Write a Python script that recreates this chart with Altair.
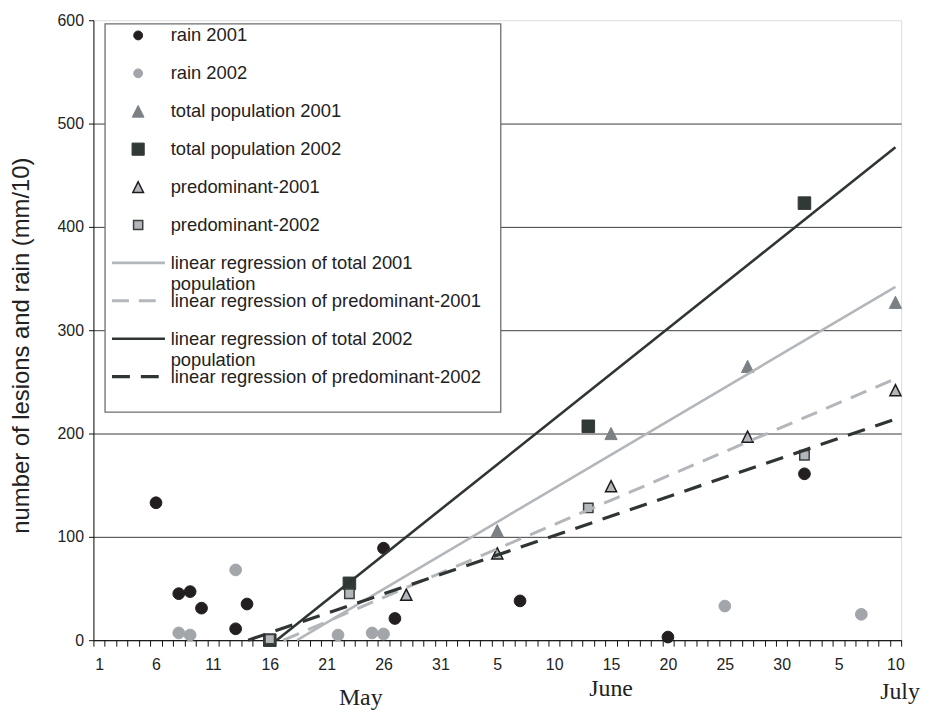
import json
import altair as alt
import pandas as pd

# ---------------- data (day index: 1 = 1 May, 31 = 31 May, 36 = 5 June, 71 = 10 July)
rain2001_days = [6, 8, 9, 10, 13, 14, 26, 27, 38, 51, 63]
rain2001_vals = [133, 45, 47, 31, 11, 35, 89, 21, 38, 3, 161]
rain2002_days = [8, 9, 13, 22, 25, 26, 56, 68]
rain2002_vals = [7, 5, 68, 5, 7, 6, 33, 25]
total2001_days = [36, 46, 58, 71]
total2001_vals = [106, 200, 265, 327]
total2002_days = [16, 23, 44, 63]
total2002_vals = [0, 55, 207, 423]
pred2001_days = [28, 36, 46, 58, 71]
pred2001_vals = [44, 84, 149, 197, 242]
pred2002_days = [16, 23, 44, 63]
pred2002_vals = [1, 45, 128, 179]

point_series = ["rain 2001", "rain 2002", "total population 2001",
                "total population 2002", "predominant-2001", "predominant-2002"]
point_days = [rain2001_days, rain2002_days, total2001_days,
              total2002_days, pred2001_days, pred2002_days]
point_vals = [rain2001_vals, rain2002_vals, total2001_vals,
              total2002_vals, pred2001_vals, pred2002_vals]

reg_names = ["linear regression of total 2001 population",
             "linear regression of predominant-2001",
             "linear regression of total 2002 population",
             "linear regression of predominant-2002"]
reg_legend_lines = [["linear regression of total 2001", "population"],
                    ["linear regression of predominant-2001"],
                    ["linear regression of total 2002", "population"],
                    ["linear regression of predominant-2002"]]
reg_start_day = [18.4, 17.2, 16.6, 14.1]
reg_start_val = [0, 0, 0, 0]
reg_end_day = [71, 71, 71, 71]
reg_end_val = [342, 253, 477, 214]

tick_days = [1, 6, 11, 16, 21, 26, 31, 36, 41, 46, 51, 56, 61, 66, 71]
tick_labels = ["1", "6", "11", "16", "21", "26", "31", "5", "10", "15",
               "20", "25", "30", "5", "10"]
y_ticks = [0, 100, 200, 300, 400, 500, 600]
month_names = ["May", "June", "July"]
month_days = [24, 46, 71.4]

# ---------------- tables
rows = []
for s, ds, vs in zip(point_series, point_days, point_vals):
    for d, v in zip(ds, vs):
        rows.append({"series": s, "day": d, "value": v})
points_df = pd.DataFrame(rows)

rows = []
for n, d0, v0, d1, v1 in zip(reg_names, reg_start_day, reg_start_val, reg_end_day, reg_end_val):
    rows.append({"reg": n, "day": d0, "value": v0})
    rows.append({"reg": n, "day": d1, "value": v1})
reg_df = pd.DataFrame(rows)

legend_df = pd.DataFrame({
    "entry": point_series + reg_names,
    "lines": [[s] for s in point_series] + reg_legend_lines,
    "row": list(range(len(point_series) + len(reg_names))),
})
month_df = pd.DataFrame({"month": month_names, "day": month_days})

# ---------------- styles
FONT = "Liberation Sans"
W, H = 813, 624
TRI = "M0,-1L1,1L-1,1Z"
point_style = {
    "rain 2001": dict(shape="circle", fill="#231f20", stroke="#231f20", sw=1, size=140, lsize=80),
    "rain 2002": dict(shape="circle", fill="#a2a5aa", stroke="#a2a5aa", sw=1, size=140, lsize=80),
    "total population 2001": dict(shape=TRI, fill="#7b8085", stroke="#7b8085", sw=1, size=150, lsize=140),
    "total population 2002": dict(shape="square", fill="#313937", stroke="#313937", sw=1, size=160, lsize=150),
    "predominant-2001": dict(shape=TRI, fill="#b3b6ba", stroke="#1c1c1c", sw=1.5, size=125, lsize=115),
    "predominant-2002": dict(shape="square", fill="#b3b6ba", stroke="#3a3f3e", sw=1.5, size=90, lsize=85),
}
reg_style = {
    reg_names[0]: dict(color="#b3b6ba", dash=None, width=2.6),
    reg_names[1]: dict(color="#b3b6ba", dash=[17, 10], width=3),
    reg_names[2]: dict(color="#2e3533", dash=None, width=2.6),
    reg_names[3]: dict(color="#2e3533", dash=[18, 11], width=3.2),
}

x_scale = alt.Scale(domain=[0.5, 71.5], nice=False, zero=False)
y_scale = alt.Scale(domain=[0, 600], nice=False, zero=True)
boundaries = [k + 0.5 for k in range(0, 72)]
label_expr = (f"indexof({json.dumps(tick_days)}, datum.value + 0.5) >= 0 ? "
              f"{json.dumps(tick_labels)}[indexof({json.dumps(tick_days)}, datum.value + 0.5)] : ''")

x_axis = alt.Axis(values=boundaries, title=None, grid=False, labelExpr=label_expr,
                  labelOffset=W / 71 / 2, labelFontSize=16, labelFont=FONT, labelColor="#222",
                  labelPadding=11, labelOverlap=False, labelFlush=False, labelBound=False,
                  tickSize=6, tickColor="#111", tickWidth=1, domainColor="#111", domainWidth=1)
y_axis = alt.Axis(values=y_ticks, title="number of lesions and rain (mm/10)",
                  titleFontSize=24, titleFont=FONT, titleFontWeight="normal", titleColor="#222",
                  titlePadding=24, titleY=327,
                  labelFontSize=16, labelFont=FONT, labelColor="#222", labelPadding=5,
                  tickSize=5, tickColor="#111", domainColor="#111", domainWidth=1,
                  grid=True, gridWidth=1,
                  gridColor=alt.condition("datum.value >= 600", alt.value("transparent"), alt.value("#3a3a3a")))

x_enc = alt.X("day:Q", scale=x_scale, axis=x_axis)
y_enc = alt.Y("value:Q", scale=y_scale, axis=y_axis)

layers = []
# data points
for s in point_series:
    st = point_style[s]
    layers.append(
        alt.Chart(points_df).transform_filter(alt.datum.series == s)
        .mark_point(shape=st["shape"], filled=True, fill=st["fill"], stroke=st["stroke"],
                    strokeWidth=st["sw"], size=st["size"], opacity=1)
        .encode(x=x_enc, y=y_enc)
    )
# regression lines
for n in reg_names:
    st = reg_style[n]
    kw = dict(color=st["color"], strokeWidth=st["width"], strokeCap="butt")
    if st["dash"]:
        kw["strokeDash"] = st["dash"]
    layers.append(
        alt.Chart(reg_df).transform_filter(alt.datum.reg == n)
        .mark_line(**kw).encode(x=x_enc, y=y_enc)
    )
# month labels
month_y = {"May": 689, "June": 680, "July": 683}
for m in month_names:
    layers.append(
        alt.Chart(month_df).transform_filter(alt.datum.month == m)
        .mark_text(font="Liberation Serif", fontSize=24, color="#222", baseline="alphabetic", align="center")
        .encode(x=alt.X("day:Q", scale=x_scale, axis=x_axis), y=alt.value(month_y[m]), text="month:N")
    )

# legend
ROW_Y = "15.3 + 38.16 * datum.row"
layers.append(
    alt.Chart(alt.Data(values=[{"box": 1}]))
    .mark_rect(fill="white", stroke="#6e6e6e", strokeWidth=1.3)
    .encode(x=alt.value(11.7), x2=alt.value(410), y=alt.value(3.7), y2=alt.value(394.5))
)
for s in point_series:
    st = point_style[s]
    layers.append(
        alt.Chart(legend_df).transform_filter(alt.datum.entry == s)
        .transform_calculate(ly=ROW_Y)
        .mark_point(shape=st["shape"], filled=True, fill=st["fill"], stroke=st["stroke"],
                    strokeWidth=st["sw"], size=st["lsize"], opacity=1)
        .encode(x=alt.value(45), y=alt.Y("ly:Q", scale=None))
    )
for n in reg_names:
    st = reg_style[n]
    kw = dict(color=st["color"], strokeWidth=st["width"], strokeCap="butt")
    if st["dash"]:
        kw["strokeDash"] = st["dash"]
    layers.append(
        alt.Chart(legend_df).transform_filter(alt.datum.entry == n)
        .transform_calculate(ly=ROW_Y)
        .mark_rule(**kw)
        .encode(x=alt.value(18.7), x2=alt.value(72), y=alt.Y("ly:Q", scale=None))
    )
layers.append(
    alt.Chart(legend_df).transform_calculate(ly=ROW_Y)
    .mark_text(align="left", baseline="alphabetic", dy=6, fontSize=18.5, lineHeight=21.5,
               font=FONT, color="#222")
    .encode(x=alt.value(77.7), y=alt.Y("ly:Q", scale=None), text=alt.Text("lines:N"))
)

chart = alt.layer(*layers).properties(
    width=W, height=H,
    autosize=alt.AutoSizeParams(type="none"),
    padding={"left": 86, "top": 10, "right": 22, "bottom": 72},
    background="white",
).configure_view(strokeWidth=0).configure(font=FONT)

chart.save("out.html", embed_options={"renderer": "svg", "actions": False})
